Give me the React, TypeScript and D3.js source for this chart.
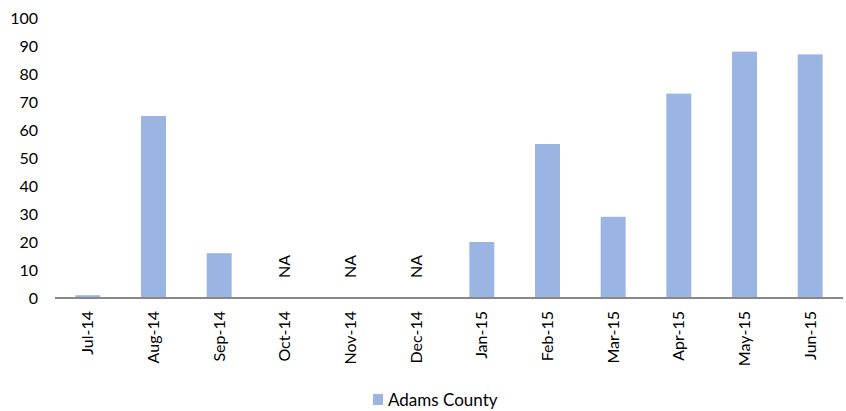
import React, { useEffect, useRef } from "react";
import * as d3 from "d3";

const months = ["Jul-14", "Aug-14", "Sep-14", "Oct-14", "Nov-14", "Dec-14", "Jan-15", "Feb-15", "Mar-15", "Apr-15", "May-15", "Jun-15"];
// null = NA
const adams: (number | null)[] = [1, 65, 16, null, null, null, 20, 55, 29, 73, 88, 87];
const yTicks = [0, 10, 20, 30, 40, 50, 60, 70, 80, 90, 100];
const seriesName = "Adams County";

const W = 846;
const H = 411;
const FONT = "Lato, 'Open Sans', sans-serif";

const App = () => {
  const svgRef = useRef<SVGSVGElement>(null);

  useEffect(() => {
    const svg = d3.select(svgRef.current);
    svg.selectAll("*").remove();

    const x = d3.scaleBand().domain(months).range([55, 843]).paddingInner(0.62).paddingOuter(0.31);
    const y = d3.scaleLinear().domain([0, 100]).range([298, 18]);
    const bw = x.bandwidth();

    // y labels
    svg
      .selectAll(".ylab")
      .data(yTicks)
      .join("text")
      .attr("x", 38)
      .attr("y", (d) => y(d))
      .attr("dy", "0.35em")
      .attr("text-anchor", "end")
      .attr("font-family", FONT)
      .attr("font-size", 16)
      .attr("fill", "#000")
      .text((d) => d);

    // bars
    svg
      .selectAll(".bar")
      .data(months.map((m, i) => ({ m, v: adams[i] })).filter((d) => d.v !== null))
      .join("rect")
      .attr("x", (d) => x(d.m)!)
      .attr("y", (d) => y(d.v as number))
      .attr("width", bw)
      .attr("height", (d) => y(0) - y(d.v as number))
      .attr("fill", "#9BB5E3");

    // NA labels
    svg
      .selectAll(".na")
      .data(months.filter((_, i) => adams[i] === null))
      .join("text")
      .attr("transform", (d) => `translate(${x(d)! + bw / 2},${278}) rotate(-90)`)
      .attr("dy", "0.35em")
      .attr("text-anchor", "start")
      .attr("font-family", FONT)
      .attr("font-size", 16)
      .text("NA");

    // axis line
    svg
      .append("line")
      .attr("x1", 55)
      .attr("x2", 843)
      .attr("y1", y(0))
      .attr("y2", y(0))
      .attr("stroke", "#888")
      .attr("stroke-width", 2);

    // x labels
    svg
      .selectAll(".xlab")
      .data(months)
      .join("text")
      .attr("transform", (d) => `translate(${x(d)! + bw / 2},${311}) rotate(-90)`)
      .attr("dy", "0.35em")
      .attr("text-anchor", "end")
      .attr("font-family", FONT)
      .attr("font-size", 16)
      .text((d) => d);

    // legend
    svg.append("rect").attr("x", 373).attr("y", 394).attr("width", 10).attr("height", 11).attr("fill", "#9BB5E3");
    svg
      .append("text")
      .attr("x", 388)
      .attr("y", 406)
      .attr("font-family", FONT)
      .attr("font-size", 17)
      .text(seriesName);
  }, []);

  return (
    <svg ref={svgRef} width={W} height={H} style={{ position: "absolute", left: 0, top: 0 }} />
  );
};

export default App;
